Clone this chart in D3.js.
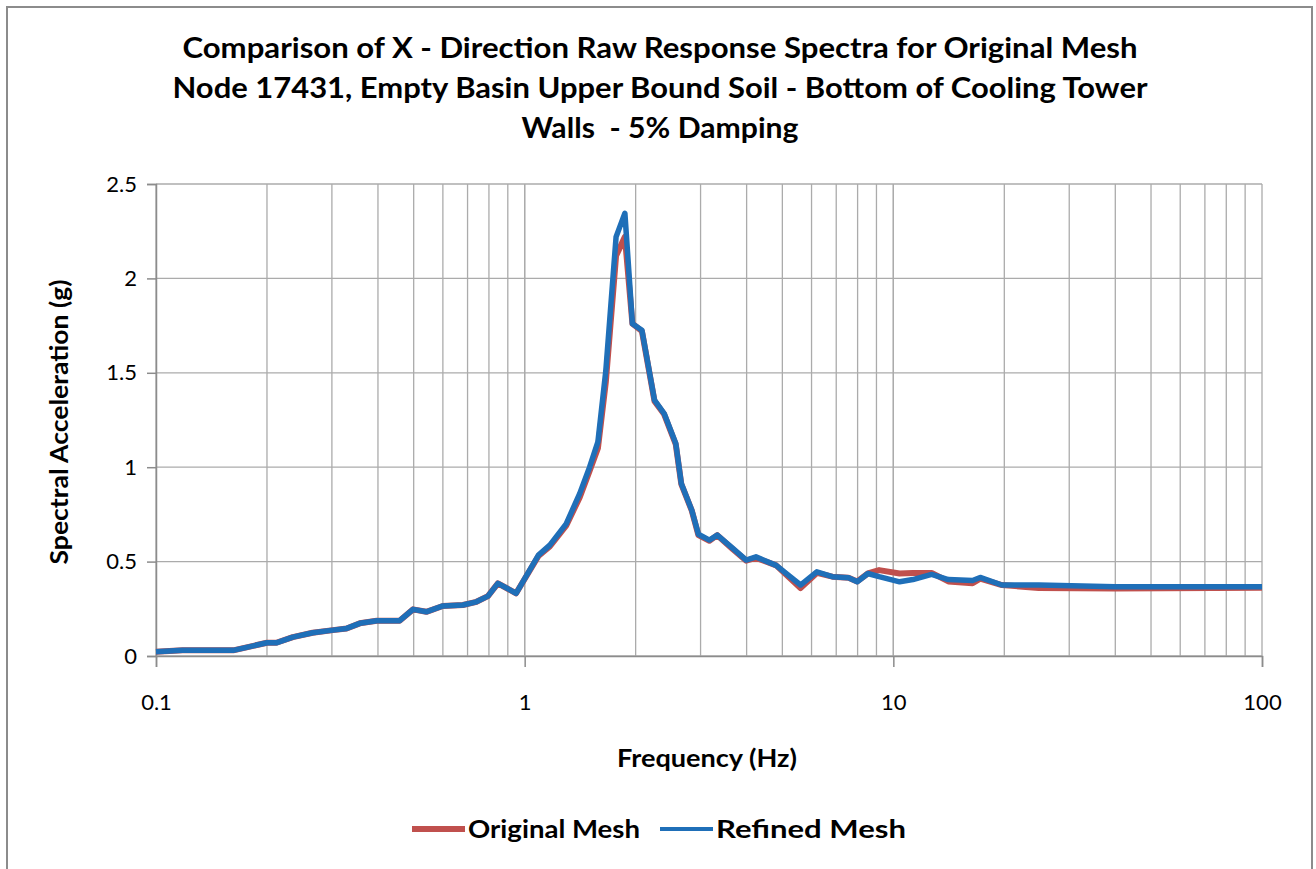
<!DOCTYPE html>
<html>
<head>
<meta charset="utf-8">
<script src="https://cdn.jsdelivr.net/npm/d3@7"></script>
<style>
  body { margin: 0; background: #fff; }
  text { font-family: Lato, "Open Sans", sans-serif; fill: #000; }
</style>
</head>
<body>
<div id="my_dataviz"></div>
<script>
// frequency (Hz) and spectral acceleration (g)
const freq = [0.1, 0.118, 0.162, 0.2, 0.212, 0.235, 0.266, 0.302, 0.329, 0.357, 0.397, 0.458, 0.498, 0.541, 0.60, 0.68, 0.74, 0.795, 0.846, 0.948, 1.09, 1.17, 1.296, 1.41, 1.5, 1.58, 1.66, 1.77, 1.87, 1.96, 2.08, 2.25, 2.39, 2.57, 2.66, 2.84, 2.96, 3.17, 3.33, 3.67, 3.99, 4.24, 4.81, 5.6, 6.2, 6.83, 7.56, 7.98, 8.53, 9.15, 10.4, 11.3, 12.7, 14.1, 16.4, 17.2, 19.7, 24.8, 40, 100];
const originalMesh = [0.023, 0.03, 0.03, 0.07, 0.07, 0.10, 0.123, 0.137, 0.146, 0.173, 0.187, 0.187, 0.247, 0.234, 0.265, 0.27, 0.287, 0.317, 0.385, 0.332, 0.53, 0.58, 0.69, 0.84, 0.98, 1.10, 1.45, 2.12, 2.22, 1.76, 1.72, 1.35, 1.28, 1.12, 0.91, 0.77, 0.64, 0.61, 0.64, 0.565, 0.505, 0.52, 0.48, 0.36, 0.44, 0.42, 0.415, 0.395, 0.437, 0.455, 0.437, 0.44, 0.44, 0.395, 0.385, 0.41, 0.376, 0.36, 0.358, 0.362];
const refinedMesh = [0.023, 0.03, 0.03, 0.07, 0.07, 0.10, 0.123, 0.137, 0.146, 0.173, 0.187, 0.187, 0.247, 0.234, 0.265, 0.27, 0.287, 0.317, 0.385, 0.332, 0.534, 0.587, 0.70, 0.86, 1.0, 1.134, 1.51, 2.22, 2.345, 1.76, 1.725, 1.355, 1.284, 1.125, 0.914, 0.772, 0.645, 0.614, 0.64, 0.57, 0.508, 0.525, 0.48, 0.376, 0.446, 0.42, 0.415, 0.393, 0.437, 0.42, 0.393, 0.405, 0.432, 0.405, 0.40, 0.416, 0.376, 0.376, 0.367, 0.367];
const yTicks = [0, 0.5, 1, 1.5, 2, 2.5];
const xTicks = [0.1, 1, 10, 100];
const titleLines = [
  "Comparison of X - Direction Raw Response Spectra for Original Mesh",
  "Node 17431, Empty Basin Upper Bound Soil - Bottom of Cooling Tower",
  "Walls  - 5% Damping"
];

const width = 1316, height = 869;
const margin = {top: 184, right: 54, bottom: 213, left: 156};
const chartWidth = width - margin.left - margin.right,
      chartHeight = height - margin.top - margin.bottom;

const root = d3.select("#my_dataviz").append("svg")
  .attr("width", width)
  .attr("height", height);

// outer chart border
root.append("rect")
  .attr("x", 7).attr("y", 7)
  .attr("width", 1305).attr("height", 870)
  .attr("fill", "#fff")
  .attr("stroke", "#8c8c8c")
  .attr("stroke-width", 2);

// title (the original font is wider than Lato, so stretch to its width)
const titleWidths = [955, 975, 277];
root.append("g").selectAll("text")
  .data(titleLines)
  .join("text")
    .attr("x", 660)
    .attr("y", (d, i) => 58 + i * 40)
    .attr("text-anchor", "middle")
    .attr("textLength", (d, i) => titleWidths[i])
    .attr("lengthAdjust", "spacingAndGlyphs")
    .style("font-size", "28px")
    .style("font-weight", "bold")
    .style("white-space", "pre")
    .text(d => d);

const svg = root.append("g")
  .attr("transform", `translate(${margin.left}, ${margin.top})`);

const x = d3.scaleLog().domain([0.1, 100]).range([0, chartWidth]);
const y = d3.scaleLinear().domain([0, 2.5]).range([chartHeight, 0]);

// grid lines
const minorX = [];
[0.1, 1, 10].forEach(dec => {
  for (let k = 1; k <= 10; k++) minorX.push(dec * k);
});
svg.append("g").selectAll("line")
  .data(minorX)
  .join("line")
    .attr("x1", d => x(d)).attr("x2", d => x(d))
    .attr("y1", 0).attr("y2", chartHeight)
    .attr("stroke", "#ababab")
    .attr("stroke-width", 1.3);
svg.append("g").selectAll("line")
  .data(yTicks)
  .join("line")
    .attr("x1", 0).attr("x2", chartWidth)
    .attr("y1", d => y(d)).attr("y2", d => y(d))
    .attr("stroke", "#ababab")
    .attr("stroke-width", 1.3);

// axes
const xAxis = svg.append("g")
  .attr("transform", `translate(0, ${chartHeight})`)
  .call(d3.axisBottom(x).tickValues(xTicks).tickFormat(d3.format("")).tickSize(11).tickPadding(27));
const yAxis = svg.append("g")
  .call(d3.axisLeft(y).tickValues(yTicks).tickFormat(d3.format("")).tickSize(9).tickPadding(10));
[xAxis, yAxis].forEach(a => {
  a.selectAll("path, line").attr("stroke", "#8c8c8c").attr("stroke-width", 1.5);
  a.selectAll("text")
    .style("font-family", "Lato, sans-serif")
    .style("font-size", "22px")
    .attr("fill", "#000");
});

// axis titles
root.append("text")
  .attr("x", 707).attr("y", 767)
  .attr("text-anchor", "middle")
  .attr("textLength", 180)
  .attr("lengthAdjust", "spacingAndGlyphs")
  .style("font-size", "24px")
  .style("font-weight", "bold")
  .text("Frequency (Hz)");
root.append("text")
  .attr("transform", "translate(68, 422) rotate(-90)")
  .attr("text-anchor", "middle")
  .attr("textLength", 285)
  .attr("lengthAdjust", "spacingAndGlyphs")
  .style("font-size", "24px")
  .style("font-weight", "bold")
  .text("Spectral Acceleration (g)");

// series
const series = [
  {name: "Original Mesh", values: originalMesh, color: "#c0504d", width: 6, keyWidth: 6, textWidth: 172},
  {name: "Refined Mesh", values: refinedMesh, color: "#1f6fb8", width: 5.5, keyWidth: 4, textWidth: 190}
];
const line = d3.line()
  .x(d => x(d[0]))
  .y(d => y(d[1]));
svg.append("g").selectAll("path")
  .data(series)
  .join("path")
    .attr("d", s => line(freq.map((f, i) => [f, s.values[i]])))
    .attr("fill", "none")
    .attr("stroke", s => s.color)
    .attr("stroke-width", s => s.width)
    .attr("stroke-linejoin", "round");

// legend
const legend = root.append("g").selectAll("g")
  .data(series)
  .join("g")
    .attr("transform", (d, i) => `translate(${412 + i * 248}, 829)`);
legend.append("line")
  .attr("x1", 0).attr("x2", 53)
  .attr("stroke", d => d.color)
  .attr("stroke-width", d => d.keyWidth);
legend.append("text")
  .attr("x", 56).attr("y", 9)
  .attr("textLength", d => d.textWidth)
  .attr("lengthAdjust", "spacingAndGlyphs")
  .style("font-size", "24px")
  .style("font-weight", "bold")
  .text(d => d.name);
</script>
</body>
</html>
